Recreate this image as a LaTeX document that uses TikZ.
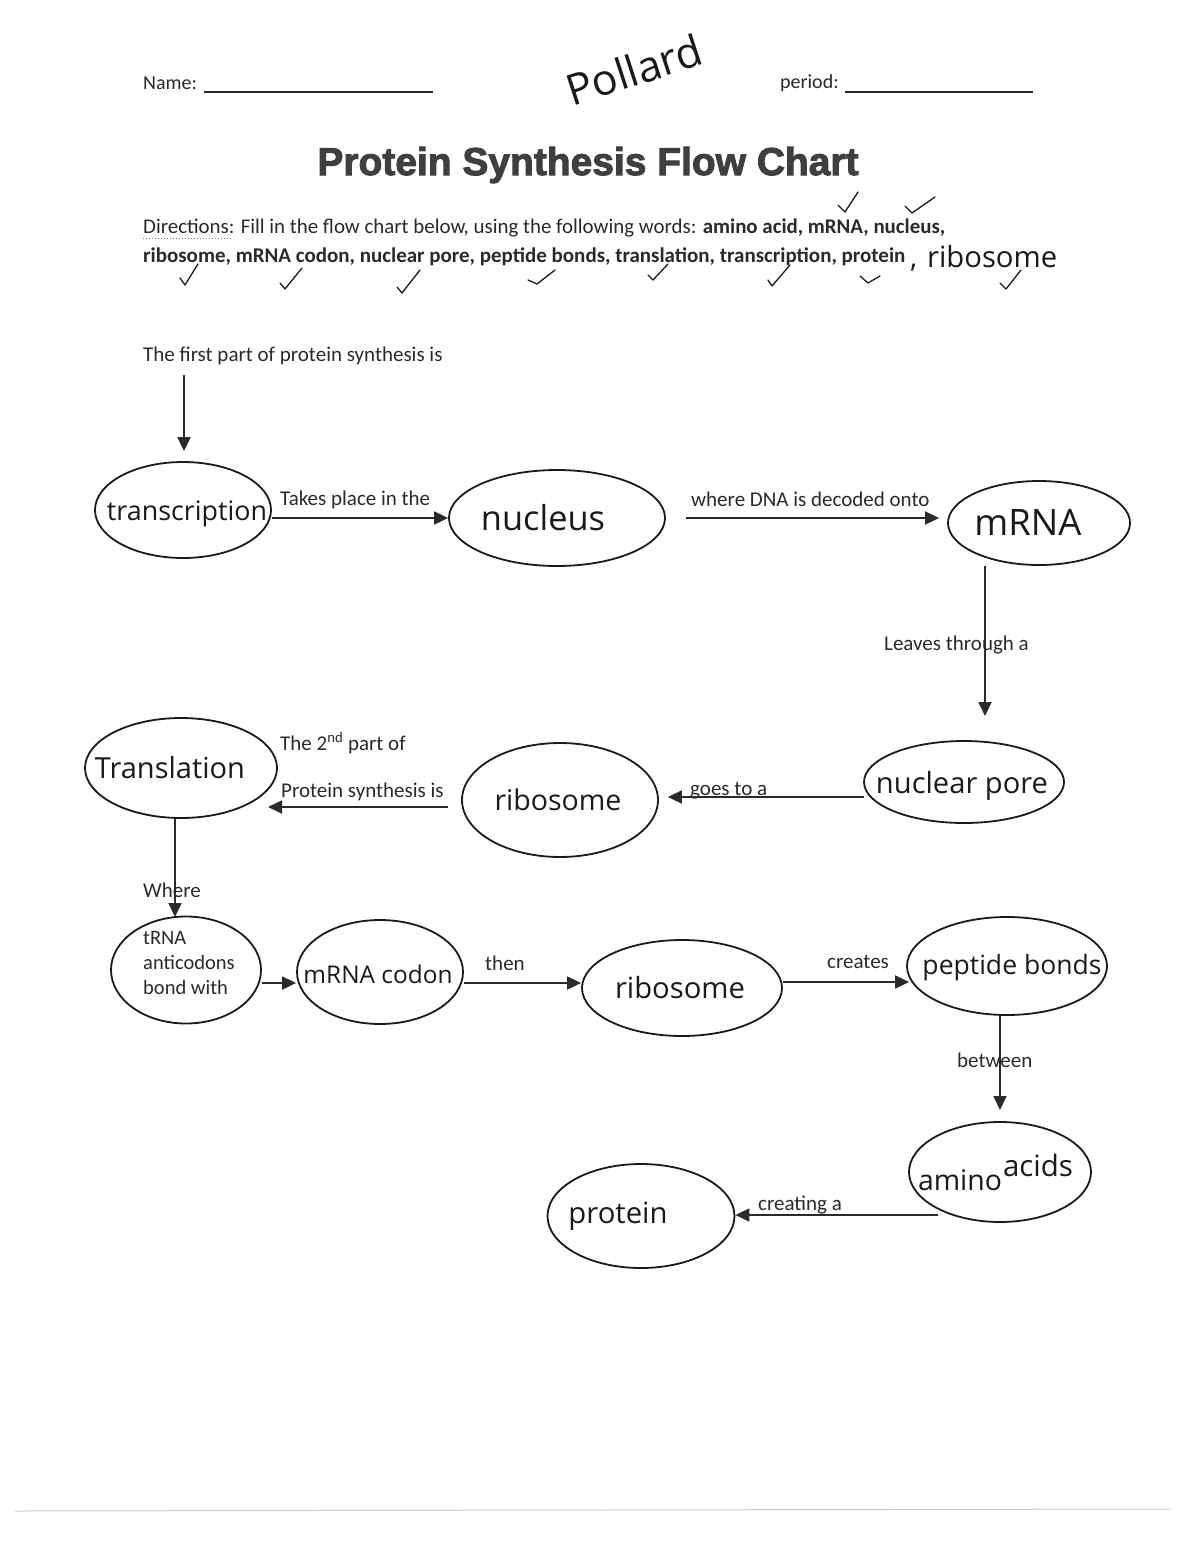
\documentclass[tikz,border=0pt]{standalone}
\usepackage{fontspec}
\setmainfont{Carlito}
\newfontfamily\titlefont[FakeBold=2.5]{Liberation Sans}
\newfontfamily\handfont{Open Sans}
\usetikzlibrary{shapes.geometric,arrows.meta,calc}
\definecolor{ink}{HTML}{2A2A2A}
\definecolor{pen}{HTML}{1A1A1A}
\newcommand\hw[2]{\resizebox{#1pt}{!}{\handfont #2}}
\begin{document}
\begin{tikzpicture}[x=1pt,y=-1pt,
 oval/.style={ellipse, draw=pen, line width=1.8pt, inner sep=0pt},
 arr/.style={draw=ink, line width=1.8pt, -{Triangle[length=14pt,width=13pt]}},
 lbl/.style={text=ink, font=\fontsize{21}{25}\selectfont, inner sep=0pt, anchor=west},
 hand/.style={text=pen, inner sep=0pt},
 tick/.style={draw=pen, line width=1.3pt, line cap=round, line join=round}]
\useasboundingbox[fill=white] (0,0) rectangle (1200,1553);

% header
\node[lbl, font=\fontsize{20}{24}\selectfont] (name) at (143,83) {Name:};
\draw[ink, line width=1.3pt] (204,92) -- (433,92);
\node[lbl, font=\fontsize{20}{24}\selectfont] (period) at (780,83) {period:};
\draw[ink, line width=1.3pt] (845,92) -- (1033,92);
\node[hand, rotate=18] (pollard) at (634,70) {\hw{140}{Pollard}};

% title
\node[text=ink!90, inner sep=0pt] (title) at (588,165) {\resizebox{541pt}{!}{\titlefont\bfseries Protein Synthesis Flow Chart}};

% directions
\node[text=ink, inner sep=0pt, anchor=west] (dir1) at (143,228) {\resizebox{802pt}{!}{Directions: Fill in the flow chart below, using the following words: \textbf{amino acid, mRNA, nucleus,}}};
\draw[ink!60, line width=1pt, dotted] (143,238) -- (232,238);
\node[text=ink, inner sep=0pt, anchor=west] (dir2) at (143,257) {\resizebox{762pt}{!}{\textbf{ribosome, mRNA codon, nuclear pore, peptide bonds, translation, transcription, protein}}};
\node[hand, anchor=west] (dir3) at (910,258) {\hw{147}{,\,\,ribosome}};

% ticks
\draw[tick] (838,205) -- (845,212) -- (858,192);
\draw[tick] (905,206) -- (912,213) -- (935,197);
\draw[tick] (180,278) -- (185,285) -- (198,264);
\draw[tick] (280,283) -- (285,289) -- (302,268);
\draw[tick] (397,287) -- (402,293) -- (420,270);
\draw[tick] (528,280) -- (537,284) -- (555,270);
\draw[tick] (648,275) -- (653,280) -- (668,264);
\draw[tick] (768,280) -- (772,286) -- (790,265);
\draw[tick] (860,276) -- (868,283) -- (880,276);
\draw[tick] (1000,283) -- (1006,289) -- (1021,270);

% ovals
\node[oval, minimum width=176pt, minimum height=96pt] (transcription) at (183,510) {};
\node[hand] (ttranscription) at (187,514) {\hw{160}{transcription}};
\node[oval, minimum width=216pt, minimum height=96pt] (nucleus) at (557,518) {};
\node[hand] (tnucleus) at (543,518) {\hw{124}{nucleus}};
\node[oval, minimum width=182pt, minimum height=84pt] (mRNA) at (1039,523) {};
\node[hand] (tmRNA) at (1028,522) {\hw{107}{mRNA}};

\node[oval, minimum width=200pt, minimum height=82pt] (npore) at (964,782) {};
\node[hand] (tnpore) at (962,786) {\hw{172}{nuclear pore}};
\node[oval, minimum width=196pt, minimum height=114pt] (rib1) at (560,800) {};
\node[hand] (trib1) at (558,800) {\hw{127}{ribosome}};
\node[oval, minimum width=192pt, minimum height=100pt] (Translation) at (181,768) {};
\node[hand] (tTranslation) at (170,768) {\hw{150}{Translation}};

\node[oval, minimum width=150pt, minimum height=107pt] (tRNA) at (186,970) {};
\node[lbl, align=left, font=\fontsize{20.5}{25}\selectfont] (ttRNA) at (143,963) {tRNA\\anticodons\\bond with};
\node[oval, minimum width=166pt, minimum height=104pt] (codon) at (380,972) {};
\node[hand] (tcodon) at (378,974) {\hw{149}{mRNA codon}};
\node[oval, minimum width=200pt, minimum height=96pt] (rib2) at (682,988) {};
\node[hand] (trib2) at (680,988) {\hw{130}{ribosome}};
\node[oval, minimum width=200pt, minimum height=98pt] (peptide) at (1007,966) {};
\node[hand] (tpeptide) at (1012,968) {\hw{179}{peptide bonds}};

\node[oval, minimum width=182pt, minimum height=100pt] (amino) at (1000,1172) {};
\node[hand] (tamino) at (960,1180) {\hw{84}{amino}};
\node[hand] (tacids) at (1038,1165) {\hw{70}{acids}};
\node[oval, minimum width=187pt, minimum height=104pt] (protein) at (641,1216) {};
\node[hand] (tprotein) at (618,1216) {\hw{99}{protein}};

% connectors
\node[lbl] (lfirst) at (143,356) {The first part of protein synthesis is};
\coordinate (f1) at (184,375);
\draw[arr, shorten >=10pt] (f1) -- (f1 |- transcription.north);

\draw[arr] (nucleus.west -| transcription.east) -- (nucleus.west);
\node[lbl] (ltakes) at (280,500) {Takes place in the};

\draw[arr, shorten <=20pt, shorten >=8pt] (nucleus.east) -- (nucleus.east -| mRNA.west);
\node[lbl] (lwhere) at (691,499) {where DNA is decoded onto};

\coordinate (m1) at (985,716);
\draw[arr] (mRNA.south -| m1) -- (m1);
\node[lbl] (lleaves) at (884,645) {Leaves through a};

\coordinate (g1) at (864,797);
\draw[arr, shorten >=9pt] (g1) -- (g1 -| rib1.east);
\node[lbl] (lgoes) at (690,791) {goes to a};

\coordinate (t2) at (268,807);
\draw[arr, shorten <=13pt] (t2 -| rib1.west) -- (t2);
\node[lbl] (lsecond) at (280,743) {The 2\textsuperscript{nd} part of};
\node[lbl] (lprot) at (281,792) {Protein synthesis is};

\coordinate (w1) at (175,917);
\draw[arr] (w1 |- Translation.south) -- (w1);
\node[lbl] (lwhere2) at (143,890) {Where};

\coordinate (r3) at (0,983);
\draw[arr] (r3 -| tRNA.east) -- (r3 -| codon.west);
\draw[arr] (r3 -| codon.east) -- (r3 -| rib2.west);
\node[lbl] (lthen) at (485,963) {then};
\coordinate (r4) at (0,982);
\draw[arr, shorten >=-3pt] (r4 -| rib2.east) -- (r4 -| peptide.west);
\node[lbl] (lcreates) at (827,962) {creates};

\coordinate (b1) at (1000,1110);
\draw[arr] (b1 |- peptide.south) -- (b1);
\node[lbl] (lbetween) at (957,1060) {between};

\coordinate (a1) at (938,1215);
\draw[arr] (a1) -- (a1 -| protein.east);
\node[lbl] (lcreating) at (758,1205) {creating a};

% scan edge
\draw[black!20, line width=1pt] (15,1511) -- (1170,1509);
\end{tikzpicture}
\end{document}
